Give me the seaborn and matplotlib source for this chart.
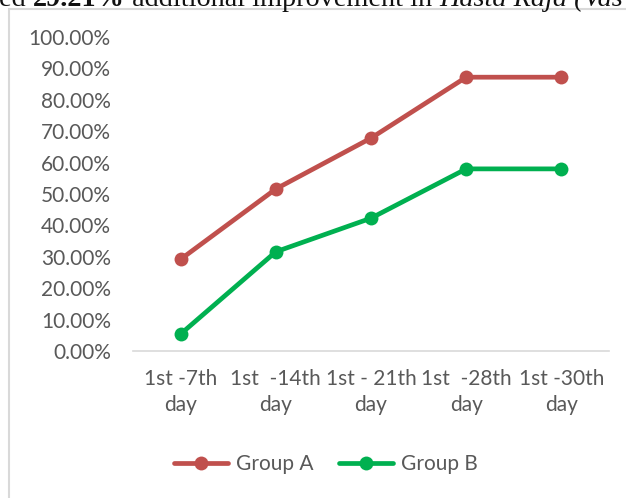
import matplotlib
matplotlib.use("Agg")
import matplotlib.pyplot as plt
import seaborn as sns
import pandas as pd
from matplotlib.ticker import FuncFormatter, MultipleLocator
from matplotlib.lines import Line2D
from matplotlib.patches import Rectangle

categories = ["1st -7th\nday", "1st  -14th\nday", "1st - 21th\nday", "1st  -28th\nday", "1st -30th\nday"]
group_a = [29.2, 51.6, 67.8, 87.2, 87.2]
group_b = [5.4, 31.6, 42.3, 58.0, 58.0]
series_names = ["Group A", "Group B"]
colors = ["#C0504D", "#00B050"]
header_parts = ["ed ", "29.21%", " additional improvement in ", "Hasta Raja (Vas"]
header_styles = [("normal", "normal"), ("bold", "normal"), ("normal", "normal"),
                 ("normal", "italic")]

sns.set_theme(style="white")
plt.rcParams['font.family'] = ['Lato', 'DejaVu Sans']

df = pd.DataFrame({
    "cat": list(range(len(categories))) * 2,
    "val": group_a + group_b,
    "series": [series_names[0]] * len(categories) + [series_names[1]] * len(categories),
})

fig = plt.figure(figsize=(6.26, 4.98), dpi=100)
ax = fig.add_axes([133 / 626, 147 / 498, (609 - 133) / 626, (351 - 37) / 498])

sns.lineplot(data=df, x="cat", y="val", hue="series", palette=colors,
             marker="o", markersize=10, markeredgewidth=0, linewidth=3.4,
             ax=ax, legend=False, clip_on=False)

ax.set_xlim(-0.5, len(categories) - 0.5)
ax.set_ylim(0, 100)
ax.yaxis.set_major_locator(MultipleLocator(10))
ax.yaxis.set_major_formatter(FuncFormatter(lambda v, p: f"{v:.2f}%"))
ax.set_xticks(range(len(categories)))
ax.set_xticklabels(categories, linespacing=1.35)
ax.set_xlabel("")
ax.set_ylabel("")
for s in ["top", "right", "left"]:
    ax.spines[s].set_visible(False)
ax.spines["bottom"].set_color("#D9D9D9")
ax.spines["bottom"].set_linewidth(1.2)
ax.tick_params(axis="both", length=0, labelsize=15, colors="#595959")
ax.tick_params(axis="y", pad=16)
ax.tick_params(axis="x", pad=13)

handles = [Line2D([0], [0], color=c, lw=3.4, marker="o", markersize=10, markeredgewidth=0) for c in colors]
leg = fig.legend(handles, series_names, loc="center", bbox_to_anchor=(326 / 626, 1 - 464 / 498),
                 ncol=2, frameon=False, fontsize=15, handlelength=2.6, handletextpad=0.4,
                 columnspacing=1.2, labelcolor="#595959")

# chart frame (partially visible)
fig.patches.append(Rectangle((9 / 626, -0.1), 1.2, 1 - 9 / 498 + 0.1, transform=fig.transFigure,
                             fill=False, edgecolor="#D9D9D9", linewidth=1.5))

# clipped header line from the surrounding document
fig.canvas.draw()
renderer = fig.canvas.get_renderer()
x_px = -1.0
for part, (weight, style) in zip(header_parts, header_styles):
    t = fig.text(x_px / 626, 1 - 6 / 498, part, fontsize=20.3, family=["Liberation Serif"],
                 fontweight=weight, fontstyle=style, color="#111111", va="baseline", ha="left")
    x_px += t.get_window_extent(renderer).width

fig.savefig("out.png", dpi=100)
